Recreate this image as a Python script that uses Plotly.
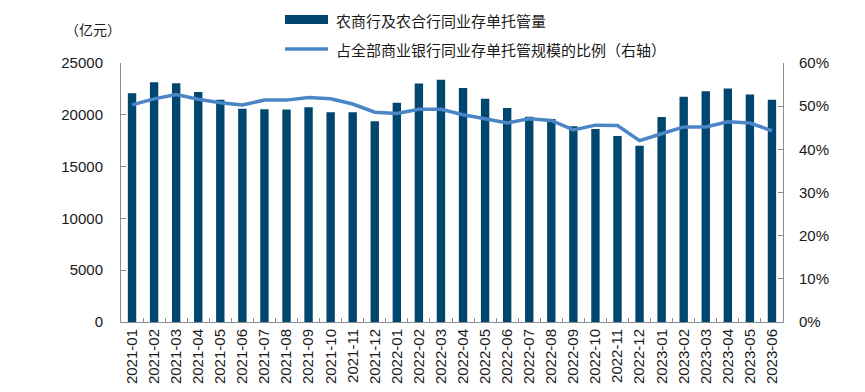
import plotly.graph_objects as go

months = ["2021-01","2021-02","2021-03","2021-04","2021-05","2021-06","2021-07","2021-08","2021-09","2021-10",
          "2021-11","2021-12","2022-01","2022-02","2022-03","2022-04","2022-05","2022-06","2022-07","2022-08",
          "2022-09","2022-10","2022-11","2022-12","2023-01","2023-02","2023-03","2023-04","2023-05","2023-06"]
custody = [22070, 23140, 23040, 22200, 21460, 20590, 20530, 20500, 20720, 20240,
           20240, 19370, 21170, 23010, 23390, 22590, 21550, 20660, 19820, 19600,
           18890, 18630, 17950, 17020, 19790, 21750, 22270, 22550, 21970, 21460]
share = [0.503, 0.517, 0.527, 0.516, 0.508, 0.503, 0.514, 0.514, 0.520, 0.517,
         0.505, 0.486, 0.483, 0.493, 0.493, 0.480, 0.471, 0.461, 0.471, 0.467,
         0.445, 0.456, 0.455, 0.420, 0.436, 0.452, 0.452, 0.464, 0.461, 0.443]

bar_name = "农商行及农合行同业存单托管量"
line_name = "占全部商业银行同业存单托管规模的比例（右轴）"
unit_label = "（亿元）"

BAR_COLOR = "#00466F"
LINE_COLOR = "#4A85C6"
AXIS_COLOR = "#8C8C8C"
NUM_FONT = "Liberation Sans, Arial, sans-serif"
CJK_FONT = "Noto Sans CJK SC, sans-serif"

fig = go.Figure()
fig.add_trace(go.Bar(x=months, y=custody, name=bar_name, marker_color=BAR_COLOR,
                     marker_line_width=0, yaxis="y"))
fig.add_trace(go.Scatter(x=months, y=share, name=line_name, mode="lines",
                         line=dict(color=LINE_COLOR, width=3.5), yaxis="y2"))

fig.update_layout(
    width=865, height=392,
    margin=dict(l=113, r=90, t=55, b=78),
    paper_bgcolor="white", plot_bgcolor="white",
    showlegend=False,
    bargap=0.62,
    font=dict(family=NUM_FONT, size=15, color="#1a1a1a"),
    xaxis=dict(type="category", showline=True, linecolor=AXIS_COLOR, linewidth=1,
               ticks="inside", tickson="boundaries", ticklen=4, tickcolor=AXIS_COLOR,
               tickangle=-90, tickfont=dict(size=15, family=NUM_FONT),
               showgrid=False, zeroline=False),
    yaxis=dict(range=[0, 25000], dtick=5000, tickformat="d", showline=True, linecolor=AXIS_COLOR, linewidth=1,
               ticks="inside", ticklen=5, tickcolor=AXIS_COLOR, showgrid=False, zeroline=False,
               tickfont=dict(size=15, family=NUM_FONT), ticklabelstandoff=14),
    yaxis2=dict(range=[0, 0.6], dtick=0.1, tickformat=".0%", overlaying="y", side="right",
                showline=True, linecolor=AXIS_COLOR, linewidth=1,
                ticks="inside", ticklen=5, tickcolor=AXIS_COLOR, showgrid=False, zeroline=False,
                tickfont=dict(size=15, family=NUM_FONT), ticklabelstandoff=12),
)

# legend drawn manually
fig.add_shape(type="rect", xref="paper", yref="paper",
              x0=(277-113)/662, x1=(320-113)/662, y0=(314-16)/259, y1=(314-7)/259,
              fillcolor=BAR_COLOR, line_width=0)
fig.add_shape(type="line", xref="paper", yref="paper",
              x0=(277-113)/662, x1=(320-113)/662, y0=(314-41)/259, y1=(314-41)/259,
              line=dict(color=LINE_COLOR, width=3.5))
fig.add_annotation(text=bar_name, xref="paper", yref="paper", x=(326-113)/662, y=(314-12)/259,
                   xanchor="left", yanchor="middle", showarrow=False,
                   font=dict(family=CJK_FONT, size=15, color="#1a1a1a"))
fig.add_annotation(text=line_name, xref="paper", yref="paper", x=(326-113)/662, y=(314-41)/259,
                   xanchor="left", yanchor="middle", showarrow=False,
                   font=dict(family=CJK_FONT, size=15, color="#1a1a1a"))
fig.add_annotation(text=unit_label, xref="paper", yref="paper", x=(55-113)/662, y=(314-21)/259,
                   xanchor="left", yanchor="middle", showarrow=False,
                   font=dict(family=CJK_FONT, size=14, color="#1a1a1a"))

fig.write_html("out.html")
